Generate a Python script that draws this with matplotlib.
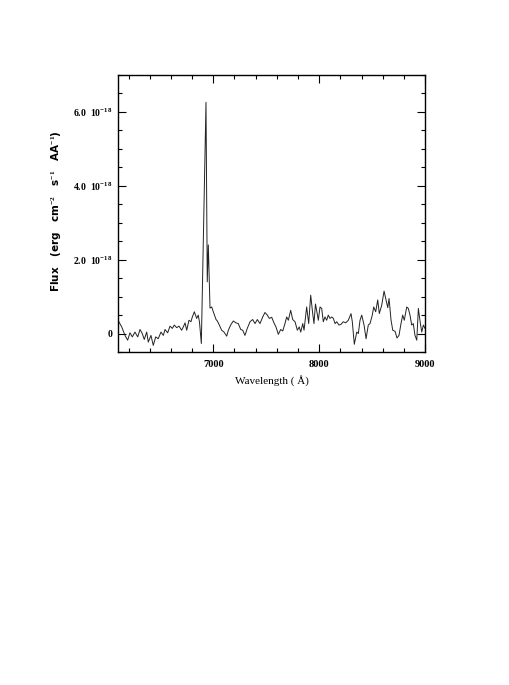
import matplotlib
matplotlib.use('Agg')
import matplotlib.pyplot as plt
from matplotlib.ticker import MultipleLocator, FixedLocator, FixedFormatter

# spectrum (wavelength in Angstrom, flux in 1e-18 erg/cm2/s/AA)
wave = [6100, 6135, 6166, 6191, 6213, 6235, 6260, 6286, 6308, 6329,
        6348, 6371, 6386, 6411, 6433, 6456, 6480, 6506, 6528, 6544,
        6569, 6591, 6613, 6632, 6654, 6676, 6701, 6717, 6733, 6749,
        6770, 6789, 6802, 6821, 6843, 6858, 6870, 6887, 6931, 6943,
        6953, 6969, 6985, 7000, 7026, 7038, 7057, 7079, 7101, 7127,
        7142, 7164, 7189, 7214, 7236, 7259, 7278, 7299, 7321, 7347,
        7372, 7394, 7416, 7441, 7467, 7488, 7510, 7529, 7552, 7573,
        7592, 7614, 7637, 7656, 7677, 7693, 7709, 7731, 7750, 7772,
        7794, 7812, 7826, 7845, 7857, 7882, 7901, 7920, 7939, 7951,
        7965, 7978, 7992, 8008, 8024, 8039, 8055, 8071, 8086, 8102,
        8119, 8134, 8150, 8166, 8187, 8206, 8228, 8251, 8275, 8301,
        8313, 8332, 8355, 8370, 8386, 8402, 8424, 8443, 8464, 8480,
        8502, 8515, 8534, 8553, 8568, 8591, 8613, 8629, 8648, 8660,
        8679, 8695, 8717, 8735, 8754, 8773, 8789, 8804, 8827, 8842,
        8858, 8874, 8889, 8905, 8922, 8937, 8956, 8969, 8984, 9000]
flux = [0.36, 0.18, -0.05, -0.18, 0.02, -0.09, 0.04, -0.09, 0.11, 0.0,
        -0.16, 0.04, -0.23, -0.05, -0.32, -0.09, -0.14, 0.04, -0.05, 0.11,
        0.02, 0.20, 0.14, 0.23, 0.16, 0.20, 0.09, 0.18, 0.29, 0.09,
        0.36, 0.32, 0.45, 0.59, 0.41, 0.50, 0.30, -0.27, 6.26, 1.40,
        2.40, 0.69, 0.72, 0.59, 0.38, 0.34, 0.23, 0.09, 0.04, -0.07,
        0.09, 0.23, 0.34, 0.29, 0.27, 0.11, 0.09, -0.05, 0.14, 0.32,
        0.38, 0.27, 0.38, 0.27, 0.45, 0.57, 0.50, 0.41, 0.44, 0.29,
        0.18, -0.02, 0.11, 0.07, 0.27, 0.45, 0.36, 0.63, 0.38, 0.32,
        0.09, 0.18, 0.04, 0.27, 0.09, 0.72, 0.27, 1.04, 0.54, 0.27,
        0.80, 0.60, 0.36, 0.72, 0.68, 0.32, 0.45, 0.36, 0.50, 0.41,
        0.45, 0.41, 0.27, 0.32, 0.23, 0.25, 0.32, 0.29, 0.36, 0.54,
        0.32, -0.29, 0.04, 0.0, 0.36, 0.50, 0.23, -0.14, 0.23, 0.27,
        0.50, 0.72, 0.59, 0.91, 0.54, 0.77, 1.15, 0.95, 0.70, 0.95,
        0.36, 0.09, 0.06, -0.12, -0.05, 0.27, 0.50, 0.36, 0.72, 0.68,
        0.50, 0.23, 0.27, -0.05, -0.18, 0.68, 0.27, 0.04, 0.23, 0.14]

xticks = [7000, 8000, 9000]
yticks = [0, 2, 4, 6]
ylabels = ['0', '2.0  10$^{-18}$', '4.0  10$^{-18}$', '6.0  10$^{-18}$']

plt.rcParams['font.family'] = ['Liberation Serif', 'DejaVu Serif']
plt.rcParams['font.weight'] = 'bold'
plt.rcParams['mathtext.fontset'] = 'custom'
plt.rcParams['mathtext.rm'] = 'Liberation Serif:bold'
plt.rcParams['mathtext.default'] = 'rm'

fig = plt.figure(figsize=(5.1, 6.85), dpi=100)
ax = fig.add_axes([0.2314, 0.4861, 0.602, 0.4044])
ax.plot(wave, flux, color='#222222', lw=0.7)
ax.set_xlim(6100, 9000)
ax.set_ylim(-0.5, 7.0)

ax.xaxis.set_major_locator(FixedLocator(xticks))
ax.xaxis.set_minor_locator(MultipleLocator(200))
ax.yaxis.set_major_locator(FixedLocator(yticks))
ax.yaxis.set_major_formatter(FixedFormatter(ylabels))
ax.yaxis.set_minor_locator(MultipleLocator(0.5))
ax.tick_params(which='both', direction='in', top=True, right=True, width=0.8)
ax.tick_params(which='major', length=6)
ax.tick_params(axis='x', which='major', pad=6, labelsize=7.5)
ax.tick_params(axis='y', which='major', pad=4, labelsize=7)
ax.tick_params(which='minor', length=3)
for s in ax.spines.values():
    s.set_linewidth(1.0)

ax.set_xlabel('Wavelength ( \u00c5)', fontsize=8, labelpad=4)
ax.set_ylabel('Flux   (erg   cm$^{-2}$   s$^{-1}$   AA$^{-1}$)', fontsize=7.5,
              family=['DejaVu Sans'], fontweight='bold')
ax.yaxis.set_label_coords(-0.175, 0.51)

fig.savefig('out.png', dpi=100)
